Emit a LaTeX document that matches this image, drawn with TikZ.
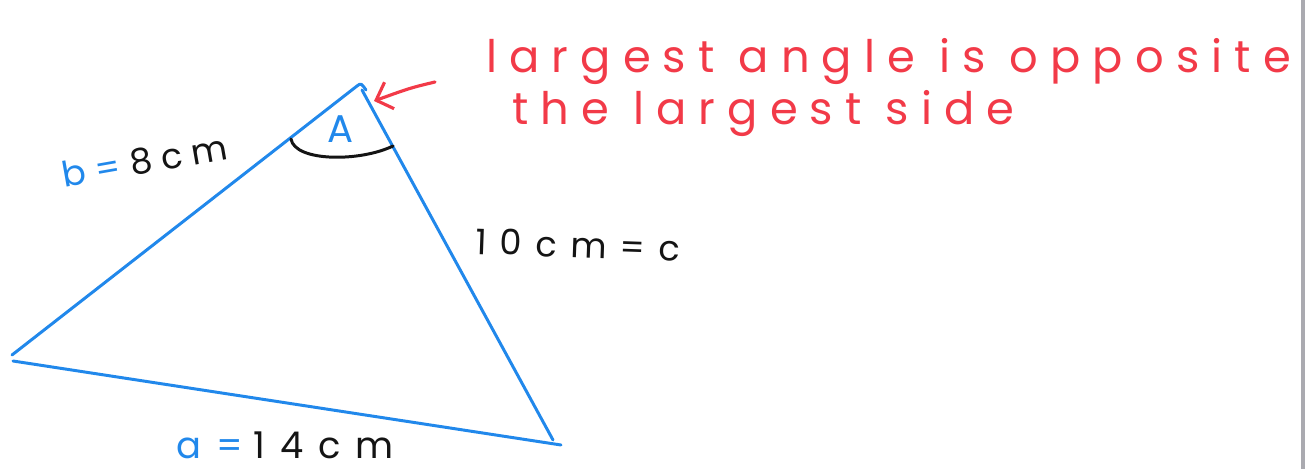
\documentclass[tikz,border=0pt]{standalone}
\usepackage{fontspec}
\usepackage{tikz}
\usetikzlibrary{arrows.meta}
\definecolor{penblue}{RGB}{33,136,235}
\definecolor{penred}{RGB}{242,58,72}
\definecolor{penblack}{RGB}{20,20,20}
\definecolor{rim}{RGB}{170,170,176}
\newfontfamily\hand[LetterSpace=27]{Poppins}
\newcommand{\blueink}[1]{\textcolor{penblue}{#1}\kern0.3em}

\begin{document}
\begin{tikzpicture}[x=0.02cm, y=-0.02cm, line cap=round, line join=round,
		side/.style={draw=penblue, line width=1.7pt},
		ink/.style={draw=penblack, line width=1.7pt},
		note/.style={text=penred, font=\hand\fontsize{25.5}{30}\selectfont, anchor=base west, inner sep=0pt},
		lbl/.style={text=penblack, font=\hand\fontsize{20}{24}\selectfont, anchor=base west, inner sep=0pt}]
	\useasboundingbox (0,0) rectangle (1308,469);
	\draw[rim, line width=1.8pt] (1303,0) -- (1303,469);

	% corners of the triangle
	\coordinate (l1) at (12,355);
	\coordinate (l2) at (13,361);
	\coordinate (top) at (357,86);
	\coordinate (hook) at (366,90);
	\coordinate (r1) at (362,90);
	\coordinate (r2) at (553,440);
	\coordinate (b2) at (561,445);

	\draw[side] (l1) -- (top) .. controls (361,83) .. (hook);
	\draw[side] (r1) -- (r2);
	\draw[side] (l2) -- (b2);

	% angle at the top
	\coordinate (arc1) at (291,139);
	\coordinate (arc2) at (393,146);
	\draw[ink] (arc1) .. controls (295,162) and (360,162) .. (arc2);
	\node[text=penblue, font=\hand\fontsize{22}{26}\selectfont, inner sep=0pt] (angA) at (341,129) {A};

	% note
	\coordinate (tail) at (435,82);
	\coordinate (tip) at (374,101);
	\draw[penred, line width=1.8pt, -{Straight Barb[length=8pt, width=16pt]}] (tail) .. controls (410,88) .. (tip);
	\node[note] (line1) at (486,73) {largest angle is opposite};
	\node[note] (line2) at (512,125) {the largest side};

	% sides
	\node[lbl, rotate=10] (sideb) at (64,188) {\blueink{b=}8cm};
	\node[lbl, rotate=-2, font=\hand\addfontfeature{LetterSpace=38}\fontsize{20}{24}\selectfont] (sidec) at (475,254) {10cm=c};
	\node[lbl, font=\hand\addfontfeature{LetterSpace=40}\fontsize{21}{25}\selectfont] (sidea) at (176,458) {\blueink{a=}14cm};
\end{tikzpicture}
\end{document}
